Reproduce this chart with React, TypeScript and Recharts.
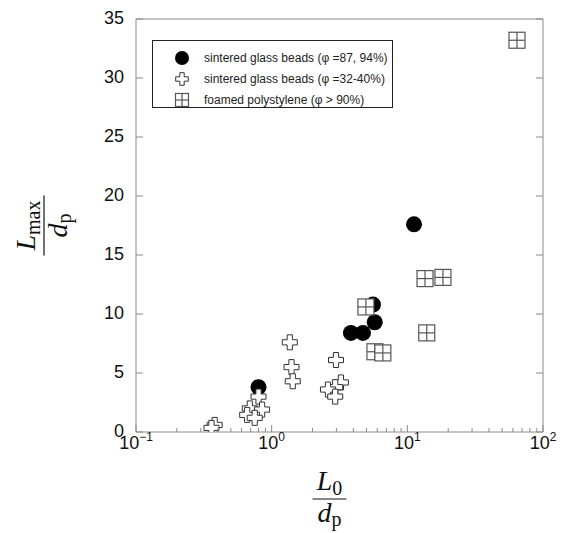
import React from "react";
import { ScatterChart, Scatter, XAxis, YAxis, Legend, Label } from "recharts";

// tick values
const xMajorTicks = [0.1, 1, 10, 100];
const xMinorTicks = [0.2, 0.3, 0.4, 0.5, 0.6, 0.7, 0.8, 0.9, 2, 3, 4, 5, 6, 7, 8, 9, 20, 30, 40, 50, 60, 70, 80, 90];
const yTicks = [0, 5, 10, 15, 20, 25, 30, 35];

// sintered glass beads, phi = 87, 94%
const denseX = [0.8, 3.84, 4.71, 5.75, 5.58, 11.2];
const denseY = [3.8, 8.4, 8.4, 9.3, 10.8, 17.6];

// sintered glass beads, phi = 32-40%
const looseX = [1.36, 1.4, 1.43, 0.8, 0.69, 0.85, 0.66, 0.75, 0.38, 0.36, 2.98, 3.24, 2.94, 2.6, 2.94];
const looseY = [7.6, 5.5, 4.3, 3.0, 2.0, 1.9, 1.45, 1.2, 0.6, 0.35, 6.1, 4.2, 3.8, 3.6, 3.0];

// foamed polystylene, phi > 90%
const foamX = [4.95, 5.77, 6.6, 13.5, 18.3, 13.9, 64.3];
const foamY = [10.6, 6.8, 6.7, 13.0, 13.1, 8.4, 33.2];

const legendLabels = [
  "sintered glass beads (\u03c6 =87, 94%)",
  "sintered glass beads (\u03c6 =32-40%)",
  "foamed polystylene (\u03c6 > 90%)",
];

const toPoints = (xs: number[], ys: number[]) => xs.map((x, i) => ({ x, y: ys[i] }));
const denseData = toPoints(denseX, denseY);
const looseData = toPoints(looseX, looseY);
const foamData = toPoints(foamX, foamY);
const xTicks = [...xMajorTicks, ...xMinorTicks].sort((a, b) => a - b);

const FRAME = "#8a8a8a";
const SANS = "'Liberation Sans', Arial, sans-serif";
const SERIF = "'Liberation Serif', 'Times New Roman', serif";

const isMajor = (v: number) => xMajorTicks.includes(v);

const crossPath = (cx: number, cy: number, h: number, a: number) =>
  `M${cx - a},${cy - h}L${cx + a},${cy - h}L${cx + a},${cy - a}L${cx + h},${cy - a}L${cx + h},${cy + a}` +
  `L${cx + a},${cy + a}L${cx + a},${cy + h}L${cx - a},${cy + h}L${cx - a},${cy + a}L${cx - h},${cy + a}` +
  `L${cx - h},${cy - a}L${cx - a},${cy - a}Z`;

const Dot = ({ cx, cy, r = 8 }: any) => <circle cx={cx} cy={cy} r={r} fill="#000" />;

const Cross = ({ cx, cy, h = 7.5, a = 2.6 }: any) => (
  <path d={crossPath(cx, cy, h, a)} fill="#fff" stroke="#333" strokeWidth={1} />
);

const Box = ({ cx, cy, s = 16 }: any) => (
  <g stroke="#555" strokeWidth={1.2}>
    <rect x={cx - s / 2} y={cy - s / 2} width={s} height={s} fill="#fff" />
    <line x1={cx} y1={cy - s / 2} x2={cx} y2={cy + s / 2} />
    <line x1={cx - s / 2} y1={cy} x2={cx + s / 2} y2={cy} />
  </g>
);

const BottomTick = ({ x, y, payload }: any) => {
  const v = payload.value;
  const major = isMajor(v);
  const exp = Math.round(Math.log10(v));
  return (
    <g>
      <line x1={x} y1={y} x2={x} y2={y - (major ? 7 : 4)} stroke={FRAME} />
      {major && (
        <text x={x} y={y + 17} textAnchor="middle" fontFamily={SANS} fontSize={18} fill="#111">
          10
          <tspan dy={-8} fontSize={12}>
            {exp < 0 ? "\u2212" + -exp : String(exp)}
          </tspan>
        </text>
      )}
    </g>
  );
};

const TopTick = ({ x, y, payload }: any) => (
  <line x1={x} y1={y} x2={x} y2={y + (isMajor(payload.value) ? 7 : 4)} stroke={FRAME} />
);

const LeftTick = ({ x, y, payload }: any) => (
  <g>
    <line x1={x} y1={y} x2={x + 7} y2={y} stroke={FRAME} />
    <text x={x - 12} y={y + 5} textAnchor="end" fontFamily={SANS} fontSize={18} fill="#111">
      {payload.value}
    </text>
  </g>
);

const RightTick = ({ x, y }: any) => <line x1={x} y1={y} x2={x - 7} y2={y} stroke={FRAME} />;

// L/d fraction, drawn around the fraction bar centre
const Fraction = ({ cx, cy, sub, bar, rotate }: any) => (
  <g transform={rotate ? `rotate(-90 ${cx} ${cy})` : undefined} fontFamily={SERIF} fill="#111">
    <text x={cx} y={cy - 9} textAnchor="middle" fontSize={28}>
      <tspan fontStyle="italic">L</tspan>
      <tspan fontSize={20} dy={5}>{sub}</tspan>
    </text>
    <line x1={cx - bar / 2} y1={cy} x2={cx + bar / 2} y2={cy} stroke="#111" strokeWidth={1.2} />
    <text x={cx} y={cy + 23} textAnchor="middle" fontSize={28}>
      <tspan fontStyle="italic">d</tspan>
      <tspan fontSize={20} dy={4}>p</tspan>
    </text>
  </g>
);

const XTitle = ({ viewBox }: any) => {
  const vb = viewBox || { x: 136, y: 432, width: 407, height: 101 };
  return <Fraction cx={vb.x + vb.width / 2 - 10} cy={vb.y + 67} sub="0" bar={34} />;
};

const YTitle = ({ viewBox }: any) => {
  const vb = viewBox || { x: 0, y: 19, width: 136, height: 413 };
  return <Fraction cx={vb.x + 44} cy={vb.y + vb.height / 2} sub="max" bar={60} rotate />;
};

const LegendBox = () => {
  const markers = [
    <Dot cx={8} cy={8} r={7} />,
    <Cross cx={8} cy={8} h={6.3} a={2.2} />,
    <Box cx={8} cy={8} s={13} />,
  ];
  return (
    <div
      style={{
        width: 241,
        height: 68,
        border: "1px solid #222",
        boxSizing: "border-box",
        background: "#fff",
        position: "relative",
      }}
    >
      {legendLabels.map((label, i) => (
        <div key={i} style={{ position: "absolute", left: 0, top: 17 + i * 21 - 8, height: 16, width: 240 }}>
          <svg width={16} height={16} style={{ position: "absolute", left: 21, top: 0 }}>
            {markers[i]}
          </svg>
          <span
            style={{
              position: "absolute",
              left: 51,
              top: 0,
              lineHeight: "16px",
              fontFamily: SANS,
              fontSize: 12,
              color: "#222",
              whiteSpace: "nowrap",
            }}
          >
            {label}
          </span>
        </div>
      ))}
    </div>
  );
};

export default function App() {
  return (
    <div style={{ position: "absolute", left: 0, top: 0 }}>
      <ScatterChart width={563} height={533} margin={{ top: 0, right: 0, bottom: 0, left: 0 }}>
        <XAxis
          dataKey="x"
          type="number"
          scale="log"
          domain={[0.1, 100]}
          allowDataOverflow
          ticks={xTicks}
          interval={0}
          tick={<BottomTick />}
          tickLine={false}
          tickSize={0}
          tickMargin={0}
          height={101}
          axisLine={{ stroke: FRAME }}
        >
          <Label content={<XTitle />} />
        </XAxis>
        <XAxis
          xAxisId="top"
          orientation="top"
          type="number"
          scale="log"
          domain={[0.1, 100]}
          allowDataOverflow
          ticks={xTicks}
          interval={0}
          tick={<TopTick />}
          tickLine={false}
          tickSize={0}
          tickMargin={0}
          height={19}
          axisLine={{ stroke: FRAME }}
        />
        <YAxis
          dataKey="y"
          type="number"
          domain={[0, 35]}
          allowDataOverflow
          ticks={yTicks}
          interval={0}
          tick={<LeftTick />}
          tickLine={false}
          tickSize={0}
          tickMargin={0}
          width={136}
          axisLine={{ stroke: FRAME }}
        >
          <Label content={<YTitle />} />
        </YAxis>
        <YAxis
          yAxisId="right"
          orientation="right"
          type="number"
          domain={[0, 35]}
          allowDataOverflow
          ticks={yTicks}
          interval={0}
          tick={<RightTick />}
          tickLine={false}
          tickSize={0}
          tickMargin={0}
          width={20}
          axisLine={{ stroke: FRAME }}
        />
        <Legend
          layout="vertical"
          align="center"
          verticalAlign="middle"
          content={<LegendBox />}
          wrapperStyle={{ left: 152, top: 40, width: 241, height: 68 }}
        />
        <Scatter name="dense" data={denseData} shape={<Dot />} isAnimationActive={false} />
        <Scatter name="loose" data={looseData} shape={<Cross />} isAnimationActive={false} />
        <Scatter name="foam" data={foamData} shape={<Box />} isAnimationActive={false} />
      </ScatterChart>
    </div>
  );
}
